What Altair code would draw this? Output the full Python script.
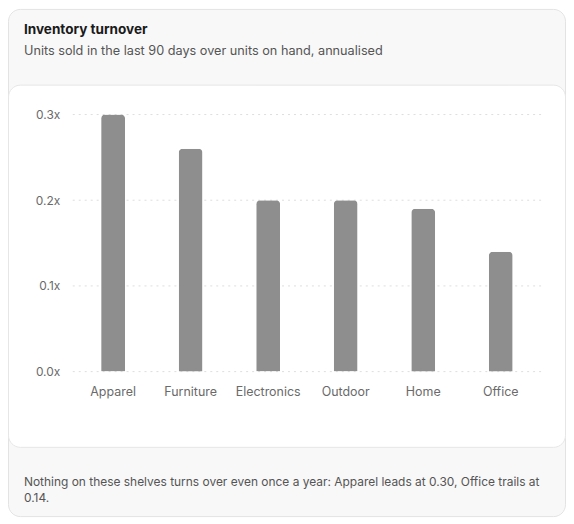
import altair as alt
import pandas as pd

categories = ["Apparel", "Furniture", "Electronics", "Outdoor", "Home", "Office"]
turnover = [0.30, 0.26, 0.20, 0.20, 0.19, 0.14]
y_ticks = [0.0, 0.1, 0.2, 0.3]

title_text = "Inventory turnover"
subtitle_text = "Units sold in the last 90 days over units on hand, annualised"
footer_lines = [
    "Nothing on these shelves turns over even once a year: Apparel leads at 0.30, Office trails at",
    "0.14.",
]

FONT = "Inter"
W, H = 470, 258

df = pd.DataFrame({"category": categories, "turnover": turnover})
grid_df = pd.DataFrame({"tick": y_ticks})
one = pd.DataFrame({"k": [0]})

y_scale = alt.Scale(domain=[0, 0.3], nice=False)

outer = alt.Chart(one).mark_rect(
    fill="#f8f8f8", stroke="#e3e3e3", strokeWidth=1, cornerRadius=12
).encode(
    x=alt.value(-64.5), x2=alt.value(494.5), y=alt.value(-105.5), y2=alt.value(403.5)
)

inner = alt.Chart(one).mark_rect(
    fill="#ffffff", stroke="#e6e6e6", strokeWidth=1, cornerRadius=12
).encode(
    x=alt.value(-64.5), x2=alt.value(494.5), y=alt.value(-29.5), y2=alt.value(334)
)

grid = alt.Chart(grid_df).mark_rule(
    color="#dedede", strokeDash=[2, 4], strokeWidth=1
).encode(y=alt.Y("tick:Q", scale=y_scale))

bars = alt.Chart(df).mark_bar(
    size=24, color="#8e8e8e", cornerRadiusTopLeft=4, cornerRadiusTopRight=4
).encode(
    x=alt.X(
        "category:N",
        sort=categories,
        scale=alt.Scale(paddingInner=0, paddingOuter=0.02),
        axis=alt.Axis(
            title=None, labelAngle=0, domain=False, ticks=False, tickSize=0,
            labelPadding=14, labelColor="#6a6a6a", labelFontSize=12.5,
            labelFont=FONT, zindex=1,
        ),
    ),
    y=alt.Y(
        "turnover:Q",
        scale=y_scale,
        axis=alt.Axis(
            title=None, values=y_ticks, grid=False, domain=False, ticks=False,
            tickSize=0, labelPadding=13, labelColor="#6a6a6a", labelFontSize=12,
            labelFont=FONT, labelExpr="format(datum.value, '.1f') + 'x'", zindex=1,
        ),
    ),
)

title = alt.Chart(one).mark_text(
    align="left", baseline="alphabetic", font=FONT, fontSize=13.6,
    fontWeight="bold", color="#1a1a1a",
).encode(x=alt.value(-49), y=alt.value(-81), text=alt.value(title_text))

subtitle = alt.Chart(one).mark_text(
    align="left", baseline="alphabetic", font=FONT, fontSize=12.75, color="#555555",
).encode(x=alt.value(-49), y=alt.value(-60), text=alt.value(subtitle_text))

footer = alt.Chart(one).mark_text(
    align="left", baseline="alphabetic", font=FONT, fontSize=12, color="#555555",
    lineHeight=15.5,
).encode(x=alt.value(-49), y=alt.value(373), text=alt.value(footer_lines))

chart = alt.layer(outer, inner, grid, bars, title, subtitle, footer).properties(
    width=W, height=H,
    autosize=alt.AutoSizeParams(type="none"),
    padding={"left": 65, "top": 106, "right": 25, "bottom": 148},
    background="#ffffff",
).configure_view(stroke=None)

chart.save("out.html", embed_options={"renderer": "svg", "actions": False})
